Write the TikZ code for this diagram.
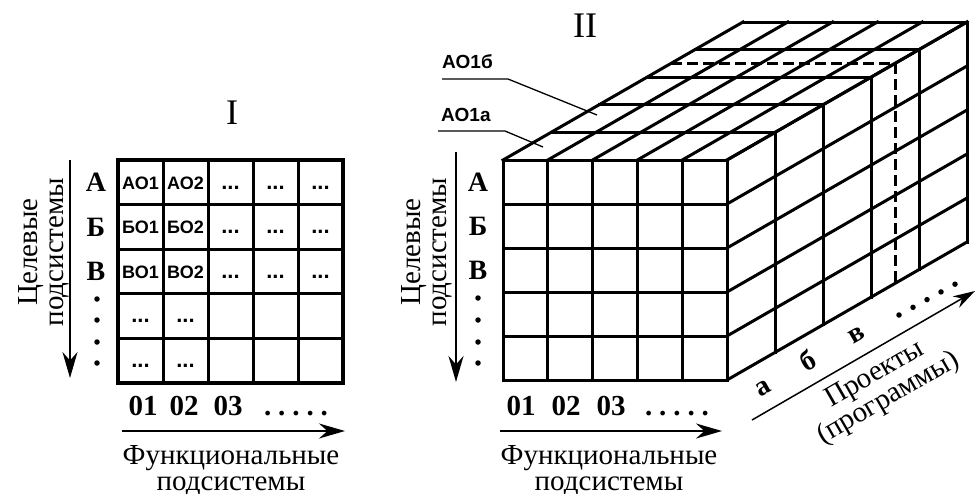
\documentclass[tikz,border=0pt]{standalone}
\usepackage{fontspec}
\setmainfont{Liberation Serif}
\newfontfamily\cellfont{Liberation Sans}
\usetikzlibrary{arrows.meta}
\newcommand\celldots{{\fontsize{22}{22}\selectfont...}}

\begin{document}
\begin{tikzpicture}[x=1pt, y=-1pt,
    gridline/.style={line width=3pt, line cap=rect},
    gridframe/.style={line width=4.5pt, line join=miter},
    celltext/.style={font=\cellfont\bfseries\fontsize{18}{20}\selectfont, inner sep=0pt, anchor=base},
    leadtext/.style={font=\cellfont\bfseries\fontsize{19}{21}\selectfont, inner sep=0pt},
    rowlab/.style={font=\bfseries\fontsize{28}{30}\selectfont, inner sep=0pt},
    numlab/.style={font=\bfseries\fontsize{29}{30}\selectfont, inner sep=0pt},
    axislab/.style={font=\fontsize{29}{26}\selectfont, align=center, inner sep=0pt},
    romanlab/.style={font=\fontsize{36}{38}\selectfont, inner sep=0pt},
    arr/.style={-{Stealth[length=26pt, width=15pt]}, line width=2pt},
    projarr/.style={-{Stealth[length=22pt, width=13pt]}, line width=1.5pt},
    lead/.style={line width=1.3pt},
    dot/.style={circle, fill, inner sep=0pt, minimum size=5.5pt}
  ]
    \useasboundingbox (0,0) rectangle (976,493);

    % Matrix I
    \foreach \i in {0,...,5} {
      \draw[gridline] (118+45*\i,160) -- (118+45*\i,383);
      \draw[gridline] (118,160+44.6*\i) -- (343,160+44.6*\i);
    }
    \draw[gridframe] (118,160) rectangle (343,383);
    \foreach \r/\lab in {1/А,2/Б,3/В} {
      \node[celltext] (m\r a) at (140.5,144.5+44.6*\r) {\lab О1};
      \node[celltext] (m\r b) at (185.5,144.5+44.6*\r) {\lab О2};
      \foreach \c in {3,4,5}
        \node[celltext] (m\r\c) at (95.5+45*\c,144.5+44.6*\r) {\celldots};
      \node[rowlab] (rowI\r) at (96,137.7+44.6*\r) {\lab};
    }
    \foreach \r in {4,5} {
      \node[celltext] (m\r a) at (140.5,144.5+44.6*\r) {\celldots};
      \node[celltext] (m\r b) at (185.5,144.5+44.6*\r) {\celldots};
    }
    \foreach \y [count=\k] in {299,320,342,363}
      \node[dot] (dI\k) at (97,\y) {};

    % Axes of matrix I
    \node[romanlab] (titleI) at (232,113) {I};
    \coordinate (goalItop) at (70,160);
    \coordinate (goalIend) at (70,378);
    \draw[arr] (goalItop) -- (goalIend);
    \node[axislab, rotate=90] (goalI) at (44,252) {Целевые\\подсистемы};
    \node[numlab, anchor=base] (nI1) at (143,415) {01};
    \node[numlab, anchor=base] (nI2) at (184,415) {02};
    \node[numlab, anchor=base] (nI3) at (228,415) {03};
    \node[numlab, anchor=base] (nIdots) at (296,415) {\makebox[64pt][s]{.\hfill.\hfill.\hfill.\hfill.}};
    \coordinate (funcIbeg) at (122,431);
    \coordinate (funcIend) at (345,431);
    \draw[arr] (funcIbeg) -- (funcIend);
    \node[axislab] (funcI) at (231,471) {Функциональные\\подсистемы};

    % Cube II
    \foreach \i in {0,...,5} {
      % front face
      \draw[gridline] (503+44.8*\i,160) -- (503+44.8*\i,380);
      \draw[gridline] (503,160+44*\i) -- (727,160+44*\i);
      % top face
      \draw[gridline] (503+44.8*\i,160) -- ++(240,-138);
      \draw[gridline] (503+48*\i,160-27.6*\i) -- ++(224,0);
      % right face
      \draw[gridline] (727,160+44*\i) -- ++(240,-138);
      \draw[gridline] (727+48*\i,160-27.6*\i) -- ++(0,220);
    }
    \draw[line width=3pt, dash pattern=on 11pt off 5pt] (671,63.4) -- ++(224,0) -- ++(0,220);

    % Leaders
    \node[leadtext, anchor=base west] (ao1b) at (442,68) {АО1б};
    \node[leadtext, anchor=base west] (ao1a) at (441,121) {АО1а};
    \coordinate (ao1bcell) at (597,115);
    \coordinate (ao1acell) at (543,147);
    \draw[lead] (ao1b.base west) ++(0,11) -- ++(66,0) -- (ao1bcell);
    \draw[lead] (ao1a.base west) ++(-3,10) -- ++(67,0) -- (ao1acell);

    % Axes of cube II
    \node[romanlab] (titleII) at (585,26) {II};
    \foreach \r/\lab in {1/А,2/Б,3/В}
      \node[rowlab] (rowII\r) at (478,138+44*\r) {\lab};
    \foreach \y [count=\k] in {298,320,342,363}
      \node[dot] (dII\k) at (478,\y) {};
    \coordinate (goalIItop) at (456,152);
    \coordinate (goalIIend) at (456,382);
    \draw[arr] (goalIItop) -- (goalIIend);
    \node[axislab, rotate=90] (goalII) at (427,252) {Целевые\\подсистемы};
    \node[numlab, anchor=base] (nII1) at (521,415) {01};
    \node[numlab, anchor=base] (nII2) at (566,415) {02};
    \node[numlab, anchor=base] (nII3) at (611,415) {03};
    \node[numlab, anchor=base] (nIIdots) at (677,415) {\makebox[64pt][s]{.\hfill.\hfill.\hfill.\hfill.}};
    \coordinate (funcIIbeg) at (500,431);
    \coordinate (funcIIend) at (722,431);
    \draw[arr] (funcIIbeg) -- (funcIIend);
    \node[axislab] (funcII) at (609,471) {Функциональные\\подсистемы};

    % Projects axis
    \node[rowlab, rotate=30] (pa) at (763,388) {а};
    \node[rowlab, rotate=30] (pb) at (808,360) {б};
    \node[rowlab, rotate=30] (pc) at (857,335) {в};
    \foreach \k in {0,...,4}
      \node[dot] (pd\k) at (899+14*\k,315-7.7*\k) {};
    \coordinate (projbeg) at (752,420);
    \coordinate (projend) at (975,291);
    \draw[projarr] (projbeg) -- (projend);
    \node[axislab, rotate=30] (proj) at (882,387) {Проекты\\(программы)};
\end{tikzpicture}
\end{document}
